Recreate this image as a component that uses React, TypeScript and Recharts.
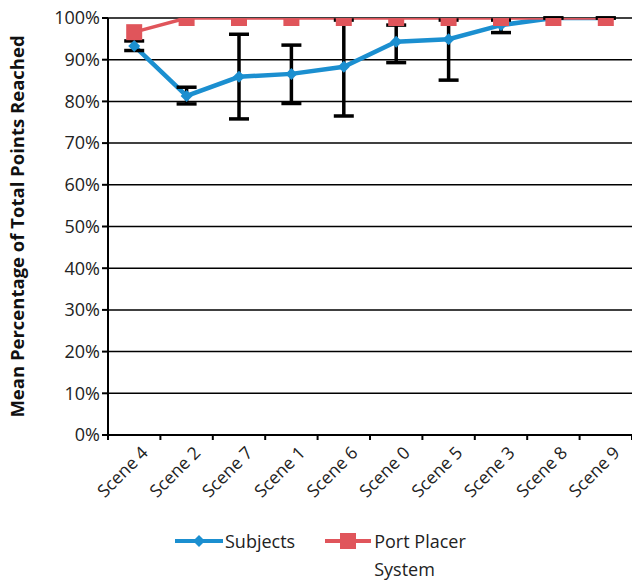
import { CartesianGrid, ErrorBar, Legend, Line, LineChart, XAxis, YAxis } from "recharts";

const scenes = ["Scene 4", "Scene 2", "Scene 7", "Scene 1", "Scene 6", "Scene 0", "Scene 5", "Scene 3", "Scene 8", "Scene 9"];
const subjects = [93.3, 81.3, 85.9, 86.6, 88.3, 94.3, 94.9, 98.3, 100, 100];
// distance from the mean down to the lower whisker / up to the upper whisker
const subjectsErrLow = [1.1, 1.9, 10.1, 7.1, 11.8, 5.0, 9.8, 1.8, 0, 0];
const subjectsErrHigh = [1.2, 2.1, 10.2, 6.9, 11.2, 4.0, 4.6, 1.2, 0, 0];
const portPlacer = [96.6, 100, 100, 100, 100, 100, 100, 100, 100, 100];
const yTicks = [0, 10, 20, 30, 40, 50, 60, 70, 80, 90, 100];

const data = scenes.map((scene, i) => ({
  scene,
  subjects: subjects[i],
  err: [subjectsErrLow[i], subjectsErrHigh[i]],
  port: portPlacer[i],
}));

const W = 632;
const H = 583;
const LEFT = 108;
const TOP = 18;
const BOTTOM = 435;
const BAND = (W - LEFT) / scenes.length;
const BLUE = "#1b8fd0";
const RED = "#e0555b";
const FONT = "'Open Sans', sans-serif";

const Diamond = (p: any) => {
  const { cx, cy, index } = p;
  if (cx == null || cy == null) return <g key={index} />;
  const r = 6;
  return (
    <polygon
      key={index}
      points={`${cx},${cy - r} ${cx + r},${cy} ${cx},${cy + r} ${cx - r},${cy}`}
      fill={BLUE}
    />
  );
};

const Square = (p: any) => {
  const { cx, cy, index } = p;
  if (cx == null || cy == null) return <g key={index} />;
  const s = 16;
  return <rect key={index} x={cx - s / 2} y={cy - s / 2} width={s} height={s} fill={RED} />;
};

// category labels at 45deg, tick marks between categories
const SceneTick = (p: any) => {
  const { x, y, payload, index } = p;
  const tx = x + 10;
  const ty = y + 6;
  return (
    <g>
      <line x1={x - BAND / 2} x2={x - BAND / 2} y1={BOTTOM} y2={BOTTOM + 5} stroke="#000" strokeWidth={2} />
      {index === scenes.length - 1 && (
        <line x1={x + BAND / 2} x2={x + BAND / 2} y1={BOTTOM} y2={BOTTOM + 5} stroke="#000" strokeWidth={2} />
      )}
      <text
        x={tx}
        y={ty}
        textAnchor="end"
        dominantBaseline="central"
        transform={`rotate(-45, ${tx}, ${ty})`}
        fontSize={17.5}
        fontFamily={FONT}
        fill="#222"
      >
        {payload.value}
      </text>
    </g>
  );
};

const LegendBox = () => (
  <div style={{ display: "flex", alignItems: "flex-start", fontFamily: FONT, fontSize: 18, color: "#222", lineHeight: "28px" }}>
    <svg width={48} height={28}>
      <line x1={0} x2={48} y1={14} y2={14} stroke={BLUE} strokeWidth={4} />
      <polygon points="24,8 30,14 24,20 18,14" fill={BLUE} />
    </svg>
    <span style={{ marginLeft: 2 }}>Subjects</span>
    <svg width={46} height={28} style={{ marginLeft: 30 }}>
      <line x1={0} x2={46} y1={14} y2={14} stroke={RED} strokeWidth={4} />
      <rect x={15} y={6} width={16} height={16} fill={RED} />
    </svg>
    <span style={{ marginLeft: 3, width: 100 }}>Port Placer System</span>
  </div>
);

export default function App() {
  return (
    <div style={{ position: "absolute", left: 0, top: 0, width: W, height: H, background: "#fff" }}>
      <LineChart width={W} height={H} data={data} margin={{ top: TOP, right: 0, bottom: 0, left: 0 }}>
        <CartesianGrid vertical={false} stroke="#000" strokeWidth={1.5} />
        <XAxis
          dataKey="scene"
          height={H - BOTTOM}
          padding={{ left: BAND / 2, right: BAND / 2 }}
          stroke="#000"
          strokeWidth={2}
          tickLine={false}
          interval={0}
          tick={<SceneTick />}
        />
        <YAxis
          width={LEFT}
          domain={[0, 100]}
          ticks={yTicks}
          allowDataOverflow
          stroke="#000"
          strokeWidth={2}
          tickSize={6}
          tickFormatter={(v) => `${v}%`}
          tick={{ fontSize: 18, fontFamily: FONT, fill: "#222" }}
          label={{
            value: "Mean Percentage of Total Points Reached",
            angle: -90,
            position: "insideLeft",
            dx: 12,
            style: { textAnchor: "middle", fontSize: 18.5, fontWeight: 700, fontFamily: FONT, fill: "#111" },
          }}
        />
        <Legend
          layout="vertical"
          align="center"
          verticalAlign="middle"
          wrapperStyle={{ top: 527, left: 175, width: 360 }}
          content={<LegendBox />}
        />
        <Line
          dataKey="subjects"
          stroke={BLUE}
          strokeWidth={4.5}
          dot={Diamond}
          activeDot={false}
          isAnimationActive={false}
        />
        <Line
          dataKey="port"
          stroke={RED}
          strokeWidth={3.5}
          dot={Square}
          activeDot={false}
          isAnimationActive={false}
        />
        {/* whiskers drawn last so they sit over both series */}
        <Line
          dataKey="subjects"
          stroke="none"
          dot={false}
          activeDot={false}
          legendType="none"
          isAnimationActive={false}
        >
          <ErrorBar dataKey="err" direction="y" width={10} strokeWidth={3.5} stroke="#000" isAnimationActive={false} />
        </Line>
      </LineChart>
    </div>
  );
}
